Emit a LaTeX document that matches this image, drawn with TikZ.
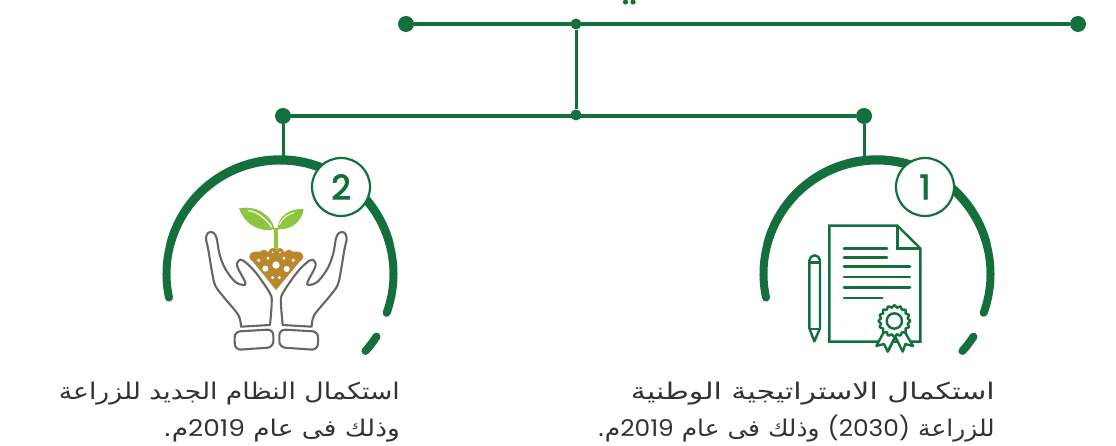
\documentclass[tikz,border=0pt]{standalone}
\usepackage{fontspec}
\TeXXeTstate=1
\newfontfamily\arabicfont[Script=Arabic]{DejaVu Sans}
\newfontfamily\latfont{Poppins}
\newfontfamily\numfont[FakeBold=2.5]{Poppins}
\definecolor{grn}{HTML}{13703C}
\definecolor{leaf}{HTML}{8CC63F}
\definecolor{soil}{HTML}{B8872E}
\definecolor{handc}{HTML}{666666}
\tikzset{
  bigdot/.style={circle,fill=grn,minimum size=16pt,inner sep=0pt},
  joindot/.style={circle,fill=grn,minimum size=11pt,inner sep=0pt},
  mainline/.style={draw=grn,line width=4.6pt},
  linkline/.style={draw=grn,line width=3pt},
  ringarc/.style={draw=grn,line width=8pt,line cap=round},
  numcircle/.style={circle,draw=grn,line width=2.2pt,fill=white,minimum size=58pt,inner sep=0pt,
     font=\numfont\fontsize{34}{34}\selectfont,text=grn},
  captxt/.style={font=\arabicfont\fontsize{23}{23}\selectfont,text=black!80,anchor=base east,inner sep=0pt,transform shape},
  zoomA/.style={shift={(140pt,-140pt)},x=0.33333pt,y=-0.33333pt},
  zoomB/.style={shift={(740pt,-140pt)},x=0.33333pt,y=-0.33333pt},
  handline/.style={draw=handc,line width=2.1pt,line join=round},
  docline/.style={draw=grn,line width=2.4pt,line join=miter},
  txtline/.style={draw=grn,line width=2.6pt,line cap=round}
}
\newcommand{\handshape}{%
  \draw[handline] plot[smooth,tension=0.55] coordinates {(303,560) (295,525) (250,470) (225,435) (215,390) (205,330) (198,295) (205,278) (220,278) (230,295) (238,340) (255,385) (285,425) (312,435) (315,425) (292,380) (296,362) (310,362) (345,395) (390,460) (395,490) (390,555)} -- cycle;
  \draw[handline,rounded corners=6pt] (283,575) -- (400,568) -- (400,622) -- (285,630) -- cycle;
}
\begin{document}
\begin{tikzpicture}[x=1pt,y=-1pt]
\useasboundingbox (0,0) rectangle (1116,446);
% tree
\node[bigdot] (topL) at (406,24) {};
\node[bigdot] (topR) at (1078,24) {};
\node[joindot] (topJ) at (576,24) {};
\node[joindot] (midJ) at (576,115) {};
\node[bigdot] (midL) at (283,116) {};
\node[bigdot] (midR) at (864,116) {};
\coordinate (arcL) at (283,162);
\coordinate (arcR) at (864,162);
\draw[mainline] (topL) -- (topR);
\draw[mainline] (midL) -- (midR);
\draw[linkline] (topJ) -- (midJ);
\draw[linkline] (midL) -- (arcL);
\draw[linkline] (midR) -- (arcR);
% cut-off dots at top
\fill[grn] (625.5,2) circle[radius=2.6];
\fill[grn] (633,2) circle[radius=2.6];
% rings
\coordinate (cL) at (280,274);
\coordinate (cR) at (877,274);
\draw[ringarc] (cL) ++(168:113.5) arc[start angle=168,end angle=380,radius=113.5];
\draw[ringarc] (cL) ++(33:115) arc[start angle=33,end angle=42,radius=115];
\draw[ringarc] (cR) ++(168:113.5) arc[start angle=168,end angle=380,radius=113.5];
\draw[ringarc] (cR) ++(33:115) arc[start angle=33,end angle=42,radius=115];
\draw[ringarc] (280,272.8) ++(195:113.5) arc[start angle=195,end angle=345,radius=113.5];
\draw[ringarc] (877,272.8) ++(195:113.5) arc[start angle=195,end angle=345,radius=113.5];
\node[numcircle] (nL) at (341,187) {2};
\node[numcircle] (nR) at (925,187) {1};
% plant and hands
\begin{scope}[zoomA]
  \handshape
  \begin{scope}[xshift=272.67pt,xscale=-1]
    \handshape
  \end{scope}
  \fill[leaf] (402,265) -- (414,265) -- (414,330) -- (402,330) -- cycle;
  \fill[leaf] (297,205) .. controls (350,195) and (395,225) .. (404,268) .. controls (360,278) and (315,255) .. cycle;
  \fill[leaf] (491,207) .. controls (445,205) and (415,230) .. (412,268) .. controls (455,270) and (485,245) .. cycle;
  \draw[white,line width=1.2pt] (325,212) .. controls (355,215) and (380,240) .. (396,262);
  \draw[white,line width=1pt] (462,218) .. controls (445,222) and (425,235) .. (418,255);
  \fill[soil] (328,352) -- (408,450) -- (490,352) -- (475,335) -- (345,335) -- cycle;
  \foreach \px/\py/\pr in {343/350/15,372/342/13,398/336/12,420/336/12,447/342/13,475/350/15}
    \fill[soil] (\px,\py) circle[radius=\pr];
  \foreach \px/\py/\pr in {408/375/11,376/386/9,440/387/9,356/361/5,384/355/5,432/355/5,460/361/5,398/413/5,418/413/5,398/337/3,420/337/3}
    \fill[white] (\px,\py) circle[radius=\pr];
\end{scope}
% document
\begin{scope}[zoomB]
  \draw[docline] (268,257) -- (472,257) -- (541,325) -- (541,605) -- (268,605) -- cycle;
  \draw[docline] (472,257) -- (472,325) -- (541,325);
  \foreach \ya/\xb in {325/441,352/441,380/510,411/510,442/510,474/427}
    \draw[txtline] (312,\ya) -- (\xb,\ya);
  % pencil
  \draw[docline,line join=round] (208,565) -- (208,362) arc[start angle=180,end angle=360,radius=16] -- (240,565) -- (223,604) -- cycle;
  \draw[docline] (208,367) -- (240,367);
  \draw[docline] (208,567) -- (240,567);
  % ribbons
  \draw[docline,fill=white,line join=round] (432,575) -- (409,618) -- (432,612) -- (443,635) -- (466,590) -- (488,635) -- (496,612) -- (519,618) -- (494,575) -- cycle;
  \draw[docline,line join=round] (443,635) -- (466,590);
  % seal
  \draw[docline,fill=white] plot[domain=0:360,samples=145,smooth] ({463+44*cos(\x)+3*cos(\x)*cos(16*\x)},{543+44*sin(\x)+3*sin(\x)*cos(16*\x)}) -- cycle;
  \draw[docline] (463,543) circle[radius=23];
\end{scope}
% captions
\node[captxt,xscale=1.158] (capLa) at (400,399) {\beginR استكمال النظام الجديد للزراعة\endR};
\node[captxt,xscale=1.148] (capLb) at (400,436) {\beginR وذلك فى عام \beginL{\latfont 2019}\endL{}م.\endR};
\node[captxt,xscale=1.304] (capRa) at (995,399) {\beginR استكمال الاستراتيجية الوطنية\endR};
\node[captxt,xscale=1.081] (capRb) at (995,436) {\beginR للزراعة \beginL{\latfont (2030)}\endL{} وذلك فى عام \beginL{\latfont 2019}\endL{}م.\endR};
\end{tikzpicture}
\end{document}
